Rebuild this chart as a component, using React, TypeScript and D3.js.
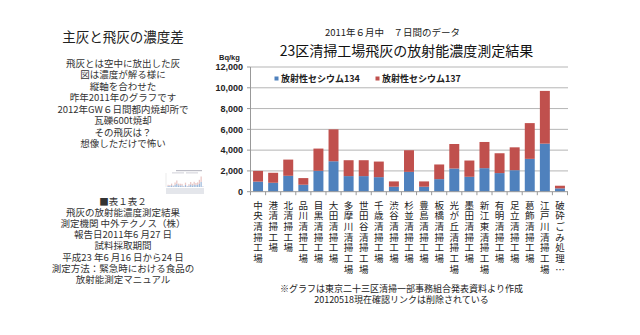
import React from "react";
import * as d3 from "d3";

const categories = [
  "中央清掃工場", "港清掃工場", "北清掃工場", "品川清掃工場", "目黒清掃工場",
  "大田清掃工場", "多摩川清掃工場", "世田谷清掃工場", "千歳清掃工場", "渋谷清掃工場",
  "杉並清掃工場", "豊島清掃工場", "板橋清掃工場", "光が丘清掃工場", "墨田清掃工場",
  "新江東清掃工場", "有明清掃工場", "足立清掃工場", "葛飾清掃工場", "江戸川清掃工場",
  "破砕ごみ処理…",
];
const cs134 = [970, 860, 1530, 670, 2010, 2930, 1500, 1500, 1400, 480, 1910, 480, 1210, 2230, 1435, 2265, 1790, 2070, 3160, 4625, 320];
const cs137 = [1030, 960, 1560, 640, 2140, 3070, 1530, 1530, 1500, 510, 2080, 510, 1410, 2360, 1565, 2520, 1910, 2200, 3440, 5075, 255];
const seriesNames = ["放射性セシウム134", "放射性セシウム137"];
const yTicks = [0, 2000, 4000, 6000, 8000, 10000, 12000];

const leftTitle = "主灰と飛灰の濃度差";
const leftLines1 = [
  "飛灰とは空中に放出した灰",
  "図は濃度が解る様に",
  "縦軸を合わせた",
  "昨年2011年のグラフです",
  "2012年GW６日間都内焼却所で",
  "瓦礫600t焼却",
  "その飛灰は？",
  "想像しただけで怖い",
];
const leftLines2 = [
  "■表１表２",
  "飛灰の放射能濃度測定結果",
  "測定機関 中外テクノス（株）",
  "報告日2011年6 月27 日",
  "試料採取期間",
  "平成23 年6 月16 日から24 日",
  "測定方法：緊急時における食品の",
  "放射能測定マニュアル",
];
const subTitle = "2011年６月中　７日間のデータ";
const mainTitle = "23区清掃工場飛灰の放射能濃度測定結果";
const notes = [
  "※グラフは東京二十三区清掃一部事務組合発表資料より作成",
  "20120518現在確認リンクは削除されている",
];

const BLUE = "#4f81bd";
const RED = "#c0504d";
const FONT = "'Noto Sans CJK JP', 'Noto Sans', sans-serif";

export default function App() {
  const x = d3.scaleBand<string>().domain(categories).range([250.5, 567.5]).paddingInner(0.34).paddingOuter(0.17);
  const y = d3.scaleLinear().domain([0, 12000]).range([191.7, 67]);
  const fmt = d3.format(",");

  // mini thumbnail scales
  const mx = d3.scaleBand<string>().domain(categories).range([167, 204]).padding(0.3);
  const my = d3.scaleLinear().domain([0, 12000]).range([187, 174]);

  const stacked = categories.map((c, i) => ({ c, a: cs134[i], b: cs137[i] }));

  return (
    <svg width={640} height={335} style={{ position: "absolute", left: 0, top: 0, background: "#fff" }} fontFamily={FONT}>
      <rect width={640} height={335} fill="#fff" />
      {/* left text */}
      <text x={123} y={42} textAnchor="middle" fontSize={13.5} fill="#222">{leftTitle}</text>
      {leftLines1.map((t, i) => (
        <text key={t} x={123} y={66.5 + i * 11.5} textAnchor="middle" fontSize={9.5} fill="#333">{t}</text>
      ))}
      {leftLines2.map((t, i) => (
        <text key={t} x={123} y={204.5 + i * 11.2} textAnchor="middle" fontSize={9.5} fill="#333">{t}</text>
      ))}

      {/* mini thumbnail */}
      <g opacity={0.55}>
        <rect x={176} y={170} width={26} height={1.2} fill="#889" />
        <rect x={172} y={172.5} width={12} height={0.8} fill="#99a" />
        <rect x={186} y={172.5} width={12} height={0.8} fill="#99a" />
        <line x1={166} x2={166} y1={173} y2={187} stroke="#bbb" strokeWidth={0.5} />
        {stacked.map((d) => (
          <g key={"m" + d.c}>
            <rect x={mx(d.c)} y={my(d.a)} width={mx.bandwidth()} height={my(0) - my(d.a)} fill={BLUE} />
            <rect x={mx(d.c)} y={my(d.a + d.b)} width={mx.bandwidth()} height={my(d.a) - my(d.a + d.b)} fill={RED} opacity={0.6} />
          </g>
        ))}
        <rect x={166} y={188} width={38} height={6} fill="#cfd3dc" />
      </g>

      {/* chart titles */}
      <text x={392.5} y={35.5} textAnchor="middle" fontSize={9.5} fill="#222">{subTitle}</text>
      <text x={406.5} y={55.5} textAnchor="middle" fontSize={14} fill="#111">{mainTitle}</text>
      <text x={219} y={60} fontSize={7.5} fontWeight="bold" fill="#222" fontFamily="'Liberation Sans', Arial, sans-serif">Bq/kg</text>

      {/* grid */}
      {yTicks.map((t) => (
        <g key={t}>
          {t > 0 && <line x1={250.5} x2={568} y1={y(t)} y2={y(t)} stroke="#b5b5b5" strokeWidth={1} />}
          <line x1={247} x2={250.5} y1={y(t)} y2={y(t)} stroke="#999" strokeWidth={1} />
          <text x={243} y={y(t) + 3.2} textAnchor="end" fontSize={9} fontWeight="bold" fill="#222" fontFamily="'Liberation Sans', Arial, sans-serif">{fmt(t)}</text>
        </g>
      ))}
      <line x1={250.5} x2={250.5} y1={y(12000)} y2={y(0)} stroke="#999" strokeWidth={1} />

      {/* bars */}
      {stacked.map((d) => (
        <g key={d.c}>
          <rect x={x(d.c)} y={y(d.a)} width={x.bandwidth()} height={y(0) - y(d.a)} fill={BLUE} />
          <rect x={x(d.c)} y={y(d.a + d.b)} width={x.bandwidth()} height={y(d.a) - y(d.a + d.b)} fill={RED} />
        </g>
      ))}

      {/* x axis */}
      <line x1={250.5} x2={568} y1={y(0)} y2={y(0)} stroke="#999" strokeWidth={1} />
      {categories.map((c) => {
        const bx = (x(c) as number) - (x.step() - x.bandwidth()) / 2;
        return <line key={"t" + c} x1={bx} x2={bx} y1={y(0)} y2={y(0) + 3.5} stroke="#999" strokeWidth={1} />;
      })}
      <line x1={567.5} x2={567.5} y1={y(0)} y2={y(0) + 3.5} stroke="#999" strokeWidth={1} />
      {categories.map((c) => {
        const cx = (x(c) as number) + x.bandwidth() / 2;
        return (
          <text key={"l" + c} x={cx} y={208.5} textAnchor="middle" fontSize={9.5} fill="#222">
            {Array.from(c).map((ch, j) => (
              <tspan key={j} x={cx} y={208.5 + j * 10.7}>{ch}</tspan>
            ))}
          </text>
        );
      })}

      {/* legend */}
      <rect x={274.5} y={76.5} width={4} height={4} fill={BLUE} />
      <text x={281} y={81.8} fontSize={9} fontWeight="bold" fill="#222">{seriesNames[0]}</text>
      <rect x={375.5} y={76.5} width={4} height={4} fill={RED} />
      <text x={382} y={81.8} fontSize={9} fontWeight="bold" fill="#222">{seriesNames[1]}</text>

      {/* notes */}
      {notes.map((t, i) => (
        <text key={t} x={401.5} y={291.5 + i * 11} textAnchor="middle" fontSize={9} fill="#222">{t}</text>
      ))}
    </svg>
  );
}
